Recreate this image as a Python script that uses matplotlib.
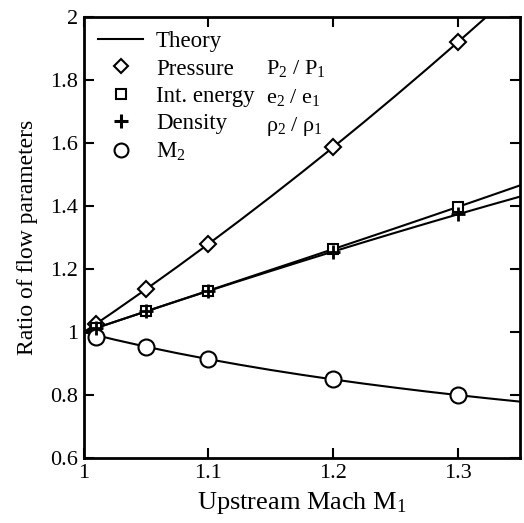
import matplotlib
matplotlib.use("Agg")
import matplotlib.pyplot as plt
from matplotlib.lines import Line2D

plt.rcParams["font.family"] = ["Liberation Serif", "DejaVu Serif"]
plt.rcParams["mathtext.fontset"] = "custom"
plt.rcParams["mathtext.rm"] = "Liberation Serif"
plt.rcParams["mathtext.it"] = "Liberation Serif"

# ---------------------------------------------------------------- data
# theory curves
mach_th = [1.0, 1.025, 1.05, 1.075, 1.1, 1.125, 1.15, 1.175, 1.2,
           1.225, 1.25, 1.275, 1.3, 1.325, 1.35]
p_th = [1.0, 1.0675, 1.1367, 1.2075, 1.28, 1.3542, 1.43, 1.5075, 1.5867,
        1.6675, 1.75, 1.8342, 1.92, 2.0075, 2.0967]
e_th = [1.0, 1.0332, 1.0662, 1.0991, 1.1319, 1.1647, 1.1976, 1.2304, 1.2635,
        1.2967, 1.33, 1.3636, 1.3974, 1.4315, 1.4659]
rho_th = [1.0, 1.0332, 1.0661, 1.0986, 1.1308, 1.1627, 1.1941, 1.2252, 1.2558,
          1.286, 1.3158, 1.3451, 1.374, 1.4024, 1.4303]
m2_th = [1.0, 0.976, 0.9538, 0.9333, 0.9143, 0.8966, 0.88, 0.8646, 0.8501,
         0.8365, 0.8238, 0.8117, 0.8004, 0.7897, 0.7796]

# simulation points
mach_pts = [1.01, 1.05, 1.1, 1.2, 1.3]
p_pts = [1.027, 1.137, 1.28, 1.587, 1.92]
e_pts = [1.013, 1.066, 1.132, 1.264, 1.397]
rho_pts = [1.013, 1.066, 1.131, 1.256, 1.374]
m2_pts = [0.986, 0.954, 0.914, 0.850, 0.800]

xticks = [1, 1.1, 1.2, 1.3]
yticks = [0.6, 0.8, 1, 1.2, 1.4, 1.6, 1.8, 2]

# ---------------------------------------------------------------- plot
fig = plt.figure(figsize=(5.24, 5.23), dpi=100)
ax = fig.add_axes([0.160, 0.124, 0.832, 0.843])

lw = 1.5
for y in (p_th, e_th, rho_th, m2_th):
    ax.plot(mach_th, y, "-", color="black", lw=lw, zorder=2)

mk = dict(color="black", mfc="white", mew=1.5, ls="none", zorder=3)
ax.plot(mach_pts, p_pts, marker="D", ms=8, **mk)
ax.plot(mach_pts, e_pts, marker="s", ms=7, **mk)
ax.plot(mach_pts, rho_pts, marker="+", ms=10, color="black", mew=2, ls="none", zorder=4)
ax.plot(mach_pts, m2_pts, marker="o", ms=11.5, **mk)

ax.set_xlim(1, 1.35)
ax.set_ylim(0.6, 2)
ax.set_xticks(xticks)
ax.set_xticklabels([f"{v:g}" for v in xticks])
ax.set_yticks(yticks)
ax.set_yticklabels([f"{v:g}" for v in yticks])
ax.tick_params(direction="in", top=True, right=True, length=7, width=1.5,
               labelsize=16, pad=4)
for s in ax.spines.values():
    s.set_linewidth(2)

ax.set_xlabel(r"Upstream Mach M$_1$", fontsize=19, labelpad=5)
ax.set_ylabel("Ratio of flow parameters", fontsize=17, labelpad=9)

handles = [
    Line2D([], [], color="black", lw=lw),
    Line2D([], [], marker="D", ms=7, color="black", mfc="white", mew=1.5, ls="none"),
    Line2D([], [], marker="s", ms=6.5, color="black", mfc="white", mew=1.5, ls="none"),
    Line2D([], [], marker="+", ms=10, color="black", mew=2.2, ls="none"),
    Line2D([], [], marker="o", ms=10, color="black", mfc="white", mew=1.5, ls="none"),
]
labels = ["Theory", "Pressure", "Int. energy", "Density", r"M$_2$"]
ax.legend(handles, labels, loc="upper left", frameon=False, fontsize=16.5,
          handlelength=2.0, handletextpad=0.55, labelspacing=0.28,
          borderaxespad=0.2, bbox_to_anchor=(0.0, 1.0))

ratio_txt = [r"P$_2$ / P$_1$", r"e$_2$ / e$_1$", r"$\rho_2$ / $\rho_1$"]
for i, t in enumerate(ratio_txt):
    ax.text(0.418, 0.884 - i * 0.066, t, transform=ax.transAxes,
            fontsize=16, va="center", ha="left")

fig.savefig("out.png", dpi=100)
